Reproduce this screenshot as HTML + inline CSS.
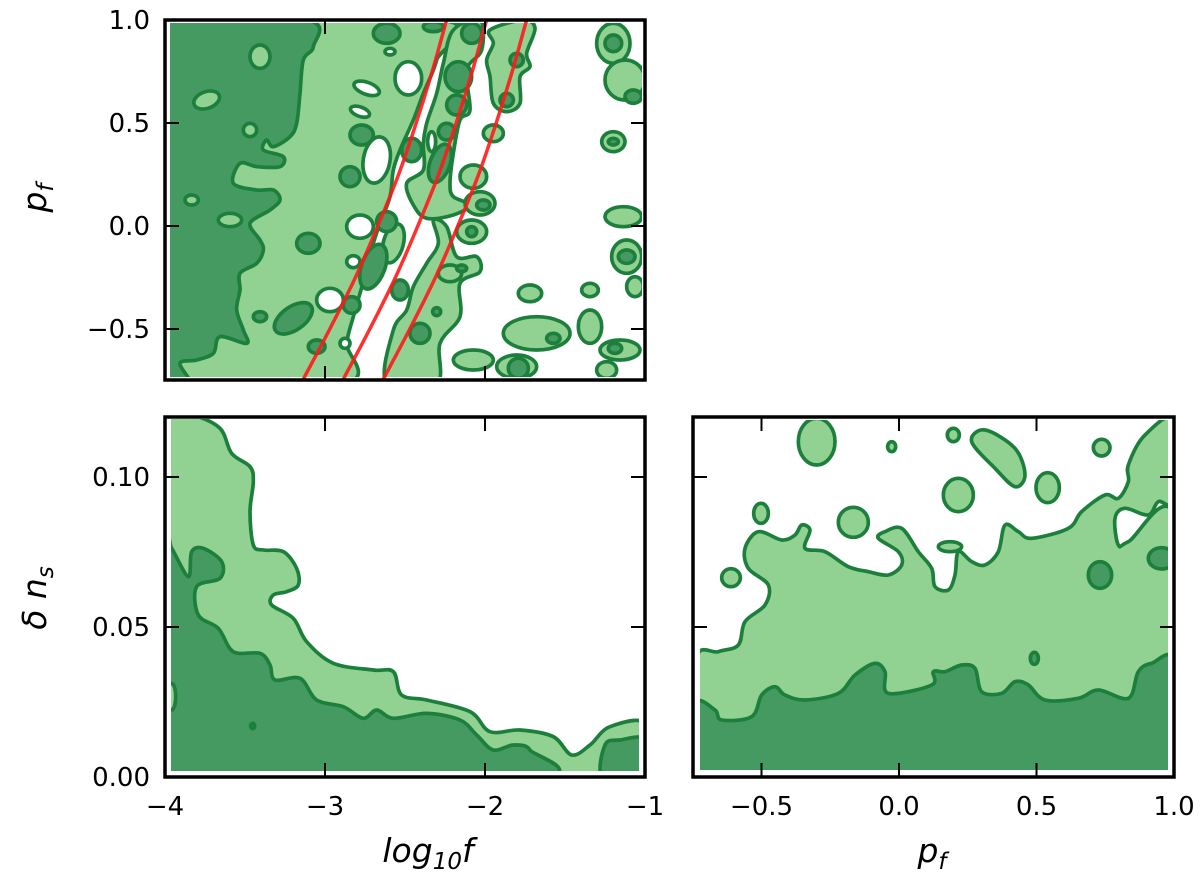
<!DOCTYPE html>
<html><head><meta charset="utf-8">
<style>
body{margin:0;background:#fff;}
svg{display:block;font-family:"DejaVu Sans","Liberation Sans",sans-serif;}
.lt{fill:#91d192;stroke:#1c7f3c;stroke-width:11;stroke-linejoin:round}
.dk{fill:#459a61;stroke:#1c7f3c;stroke-width:11;stroke-linejoin:round}
.wh{fill:#fff;stroke:#1c7f3c;stroke-width:11;stroke-linejoin:round}
.tk{font-size:26px;fill:#000}
</style></head>
<body>
<svg id="fig" width="1200" height="890" viewBox="0 0 1200 890" xmlns="http://www.w3.org/2000/svg">
<defs>
<clipPath id="c1"><rect x="170" y="23" width="472" height="354"/></clipPath>
<clipPath id="c2"><rect x="171" y="419" width="468" height="352"/></clipPath>
<clipPath id="c3"><rect x="700" y="420" width="468" height="350"/></clipPath>
<clipPath id="c1r"><rect x="167" y="21" width="477" height="358"/></clipPath>
</defs>
<g id="p1c" clip-path="url(#c1)"><g id="g1" transform="translate(160,10) scale(0.33333)"></g></g>
<g id="p1r" clip-path="url(#c1r)"></g>
<g id="p2c" clip-path="url(#c2)"><g id="g2" transform="translate(160,405) scale(0.33333)"></g></g>
<g id="p3c" clip-path="url(#c3)"><g id="g3" transform="translate(685,405) scale(0.33333)"></g></g>
<g id="axes"></g>
<text x="428" y="862" text-anchor="middle" font-size="33" font-style="italic">log<tspan font-size="23" dy="7">10</tspan><tspan dy="-7">f</tspan></text>
<text x="932" y="862" text-anchor="middle" font-size="33" font-style="italic">p<tspan font-size="23" dy="7">f</tspan></text>
<text transform="translate(46,198) rotate(-90)" text-anchor="middle" font-size="33" font-style="italic">p<tspan font-size="23" dy="7">f</tspan></text>
<text transform="translate(46,598) rotate(-90)" text-anchor="middle" font-size="33" font-style="italic">δ n<tspan font-size="23" dy="7">s</tspan></text>
</svg>
<script>
// Red curve data: p_f samples and log10 f for each curve
const curveP = [-0.75,-0.5,-0.25,0,0.25,0.5,0.75,1.0];
const curve1 = [-3.14,-2.97,-2.81,-2.67,-2.54,-2.43,-2.33,-2.24];
const curve2 = [-2.89,-2.72,-2.56,-2.42,-2.29,-2.18,-2.08,-1.99];
const curve3 = [-2.64,-2.47,-2.31,-2.17,-2.04,-1.93,-1.83,-1.74];
const xTicksLogf = [-4,-3,-2,-1];
const xTickLabelsLogf = ["\u22124","\u22123","\u22122","\u22121"];
const yTicksPf = [1.0,0.5,0.0,-0.5];
const yTickLabelsPf = ["1.0","0.5","0.0","\u22120.5"];
const yTicksDns = [0.10,0.05,0.00];
const yTickLabelsDns = ["0.10","0.05","0.00"];
const xTicksPf = [-0.5,0.0,0.5,1.0];
const xTickLabelsPf = ["\u22120.5","0.0","0.5","1.0"];

const NS="http://www.w3.org/2000/svg";
const xLogf = v => 165 + (v+4)*160;
const yPf1 = v => 20 + (1.0-v)*206;
const yDns = v => 777 - v*3000;
const xPf = v => 899 + v*275;

function smooth(pts, closed){
  const n=pts.length; let d="M"+pts[0][0]+","+pts[0][1];
  const g=i=>closed?pts[(i+n)%n]:pts[Math.max(0,Math.min(n-1,i))];
  const m=closed?n:n-1;
  for(let i=0;i<m;i++){
    const p0=g(i-1),p1=g(i),p2=g(i+1),p3=g(i+2);
    const c1=[p1[0]+(p2[0]-p0[0])/6,p1[1]+(p2[1]-p0[1])/6];
    const c2=[p2[0]-(p3[0]-p1[0])/6,p2[1]-(p3[1]-p1[1])/6];
    d+=`C${c1[0].toFixed(1)},${c1[1].toFixed(1)} ${c2[0].toFixed(1)},${c2[1].toFixed(1)} ${p2[0]},${p2[1]}`;
  }
  return d+(closed?"Z":"");
}
function addPoly(g,pts,cls,name){
  const p=document.createElementNS(NS,"path");
  p.setAttribute("d",smooth(pts,true));p.setAttribute("class",cls);
  
  
  g.appendChild(p);
}
function addEll(g,e,cls,name){
  const el=document.createElementNS(NS,"ellipse");
  el.setAttribute("cx",e[0]);el.setAttribute("cy",e[1]);el.setAttribute("rx",e[2]);el.setAttribute("ry",e[3]);
  if(e[4]) el.setAttribute("transform",`rotate(${e[4]} ${e[0]} ${e[1]})`);
  el.setAttribute("class",cls);
  
  
  g.appendChild(el);
}

const g1=document.getElementById("g1");
addPoly(g1,[[20,30],[845,30],[830,150],[790,250],[760,330],[720,420],[700,480],[690,560],[660,640],[640,700],[620,780],[600,850],[580,920],[560,1000],[555,1120],[20,1120]],"lt","light-region-main");
addPoly(g1,[[880,60],[960,30],[965,120],[920,180],[930,300],[900,330],[880,430],[870,520],[880,560],[930,585],[880,615],[800,625],[760,585],[740,520],[790,480],[790,400],[800,340],[830,250],[850,160]],"lt","light-band-a");
addPoly(g1,[[820,630],[835,700],[800,760],[760,830],[740,900],[700,960],[680,1120],[830,1120],[840,1000],[900,920],[900,820],[960,785],[950,740],[890,740],[860,650]],"lt","light-band-b");
addPoly(g1,[[990,60],[1090,30],[1125,55],[1100,130],[1110,170],[1080,200],[1080,280],[1040,305],[1000,280],[990,200],[980,150],[1000,100]],"lt","light-band-c");
[[940,500,40,35],[960,580,45,35],[935,665,45,35],[1000,370,30,25],[1360,100,50,60],[1395,210,60,60],[1360,395,35,30],[1390,620,55,30],[1400,740,45,50],[1425,830,25,30],[1110,850,35,25],[1290,840,25,20],[1130,970,100,50],[1290,950,35,50],[1380,1020,60,30],[1070,1070,60,35],[940,1050,60,30],[1340,1080,30,25],[870,790,35,25],[700,700,30,60,15]].forEach(e=>addEll(g1,e,"lt","light-blob"));
addPoly(g1,[[20,30],[440,30],[460,110],[430,150],[420,250],[410,340],[390,380],[340,410],[320,390],[310,420],[370,440],[360,470],[290,470],[240,460],[220,520],[290,540],[340,540],[360,570],[330,600],[270,640],[300,690],[310,720],[290,760],[240,790],[240,840],[230,900],[250,960],[260,1000],[180,980],[160,1030],[110,1050],[60,1060],[90,1120],[20,1120]],"dk","dark-region-main");
[[300,140,30,35],[140,270,40,25,-20],[270,360,20,20],[210,630,35,20],[95,570,20,15]].forEach(e=>addEll(g1,e,"lt","light-hole"));
[[400,925,65,35,-35],[445,700,35,30],[605,375,35,30],[570,500,30,30],[680,635,30,30],[680,70,40,30],[820,50,30,15],[895,200,40,45],[890,285,30,30],[860,365,25,25],[755,420,30,35],[840,460,30,60,20],[640,770,35,70,20],[720,840,25,30],[575,885,25,25],[780,970,30,30],[470,1010,25,20],[300,920,20,15],[935,70,30,30],[1070,150,20,20],[1040,270,20,20],[1360,100,25,25],[1420,260,25,20],[1360,395,15,10],[1400,740,25,20],[1180,985,20,15],[1365,1015,20,15],[1075,1075,30,30],[970,585,20,15],[935,665,15,15],[905,775,15,10],[830,905,12,12]].forEach(e=>addEll(g1,e,"dk","dark-blob"));
[[620,235,40,18,20],[600,305,30,14,20],[650,450,40,70,10],[600,650,40,35],[580,755,20,18],[510,870,40,35],[745,205,40,50],[690,125,15,10],[815,395,12,30],[555,1000,15,15]].forEach(e=>addEll(g1,e,"wh","white-hole"));

// red curves
const p1r=document.getElementById("p1r");
[curve1,curve2,curve3].forEach((c,k)=>{
  const pts=curveP.map((p,i)=>[+xLogf(c[i]).toFixed(1),+yPf1(p).toFixed(1)]);
  const a=pts[0],b=pts[1],y=pts[pts.length-1],z=pts[pts.length-2];
  pts.unshift([a[0]+(a[0]-b[0])*0.2,a[1]+(a[1]-b[1])*0.2]);
  pts.push([y[0]+(y[0]-z[0])*0.2,y[1]+(y[1]-z[1])*0.2]);
  const p=document.createElementNS(NS,"path");
  p.setAttribute("d",smooth(pts,false));
  p.setAttribute("fill","none");p.setAttribute("stroke","#ff1a1a");p.setAttribute("stroke-opacity","0.9");p.setAttribute("stroke-width","3.5");
  
  
  p1r.appendChild(p);
});

// ---- bottom-left contours
const g2=document.getElementById("g2");
addPoly(g2,[[20,20],[100,30],[180,70],[215,145],[270,185],[280,230],[270,320],[280,420],[310,435],[370,440],[410,490],[415,540],[380,560],[340,570],[335,600],[400,640],[440,710],[520,775],[640,795],[700,800],[725,870],[800,885],[930,920],[990,980],[1080,975],[1180,995],[1235,1050],[1290,1020],[1350,965],[1460,958],[1460,1120],[20,1120]],"lt","light-region");
addPoly(g2,[[20,420],[35,430],[85,515],[95,440],[130,430],[185,470],[180,520],[110,545],[115,630],[175,670],[220,740],[300,745],[330,780],[345,825],[420,820],[470,885],[550,905],[610,940],[650,915],[700,940],[800,925],[900,945],[950,990],[1000,1035],[1060,1020],[1110,1035],[1118,1120],[20,1120]],"dk","dark-region");
addPoly(g2,[[1330,1120],[1335,1020],[1380,1005],[1460,1005],[1460,1120]],"dk","dark-region-right");
addEll(g2,[35,875,12,40],"lt","light-blob");
addEll(g2,[278,963,6,8],"dk","dark-dot");

// ---- bottom-right contours
const g3=document.getElementById("g3");
addPoly(g3,[[30,770],[100,740],[160,720],[180,650],[240,600],[250,540],[190,490],[180,430],[220,380],[290,405],[330,390],[350,360],[375,375],[360,430],[420,440],[490,485],[550,500],[610,510],[650,480],[640,440],[580,400],[600,380],[650,370],[700,440],[740,490],[750,545],[790,555],[810,510],[820,440],[860,470],[900,480],[940,440],[960,360],[1000,380],[1040,400],[1150,370],[1190,320],[1260,270],[1300,280],[1330,230],[1330,180],[1380,90],[1470,45],[1470,285],[1420,290],[1390,330],[1320,310],[1290,340],[1300,420],[1330,410],[1470,345],[1470,1120],[30,1120]],"lt","light-region");
addPoly(g3,[[860,110],[900,75],[990,130],[1020,210],[990,245],[930,190]],"lt","light-blob");
[[395,110,55,70],[620,125,12,15],[805,90,18,20],[820,270,45,50],[1088,248,35,45],[1250,128,25,25],[228,325,22,30],[505,352,45,45],[138,518,28,27],[795,425,35,15]].forEach(e=>addEll(g3,e,"lt","light-blob"));
addPoly(g3,[[30,900],[90,915],[110,945],[200,935],[230,870],[270,845],[300,870],[360,885],[460,865],[510,810],[570,775],[600,800],[610,865],[740,840],[745,800],[780,800],[830,780],[870,790],[890,860],[950,865],[990,830],[1030,840],[1080,885],[1180,880],[1240,855],[1330,880],[1360,800],[1400,775],[1470,775],[1470,1120],[30,1120]],"dk","dark-region");
[[1245,510,35,40],[1430,460,40,32],[1048,760,12,18]].forEach(e=>addEll(g3,e,"dk","dark-blob"));

// ---- axes frames, ticks, labels
const ax=document.getElementById("axes");
function line(x1,y1,x2,y2,name){
  const l=document.createElementNS(NS,"line");
  l.setAttribute("x1",x1);l.setAttribute("y1",y1);l.setAttribute("x2",x2);l.setAttribute("y2",y2);
  l.setAttribute("stroke","#000");l.setAttribute("stroke-width","2");
  
  
  ax.appendChild(l);
}
function text(x,y,s,anchor,name){
  const t=document.createElementNS(NS,"text");
  t.setAttribute("x",x);t.setAttribute("y",y);t.setAttribute("text-anchor",anchor);t.setAttribute("class","tk");
  t.textContent=s;
  
  
  ax.appendChild(t);
}
function frame(x0,y0,x1,y1,name){
  const r=document.createElementNS(NS,"rect");
  r.setAttribute("x",x0);r.setAttribute("y",y0);r.setAttribute("width",x1-x0);r.setAttribute("height",y1-y0);
  r.setAttribute("fill","none");r.setAttribute("stroke","#000");r.setAttribute("stroke-width","3.5");
  
  
  ax.appendChild(r);
}
const T=14;
frame(165,20,645,380,"top-left-frame");
xTicksLogf.forEach(v=>{const x=xLogf(v);line(x,380,x,380-T,"x-tick");line(x,20,x,20+T,"x-tick-top");});
yTicksPf.forEach((v,i)=>{const y=yPf1(v);line(165,y,165+T,y,"y-tick");line(645,y,645-T,y,"y-tick-right");text(150,y+9,yTickLabelsPf[i],"end","y-tick-label");});
frame(165,417,645,777,"bottom-left-frame");
xTicksLogf.forEach((v,i)=>{const x=xLogf(v);line(x,777,x,777-T,"x-tick");line(x,417,x,417+T,"x-tick-top");text(x,815,xTickLabelsLogf[i],"middle","x-tick-label");});
yTicksDns.forEach((v,i)=>{const y=yDns(v);line(165,y,165+T,y,"y-tick");line(645,y,645-T,y,"y-tick-right");text(150,y+9,yTickLabelsDns[i],"end","y-tick-label");});
frame(693,417,1174,777,"bottom-right-frame");
xTicksPf.forEach((v,i)=>{const x=xPf(v);line(x,777,x,777-T,"x-tick");line(x,417,x,417+T,"x-tick-top");text(x,815,xTickLabelsPf[i],"middle","x-tick-label");});
yTicksDns.forEach(v=>{const y=yDns(v);line(693,y,693+T,y,"y-tick");line(1174,y,1174-T,y,"y-tick-right");});
</script>
</body></html>
